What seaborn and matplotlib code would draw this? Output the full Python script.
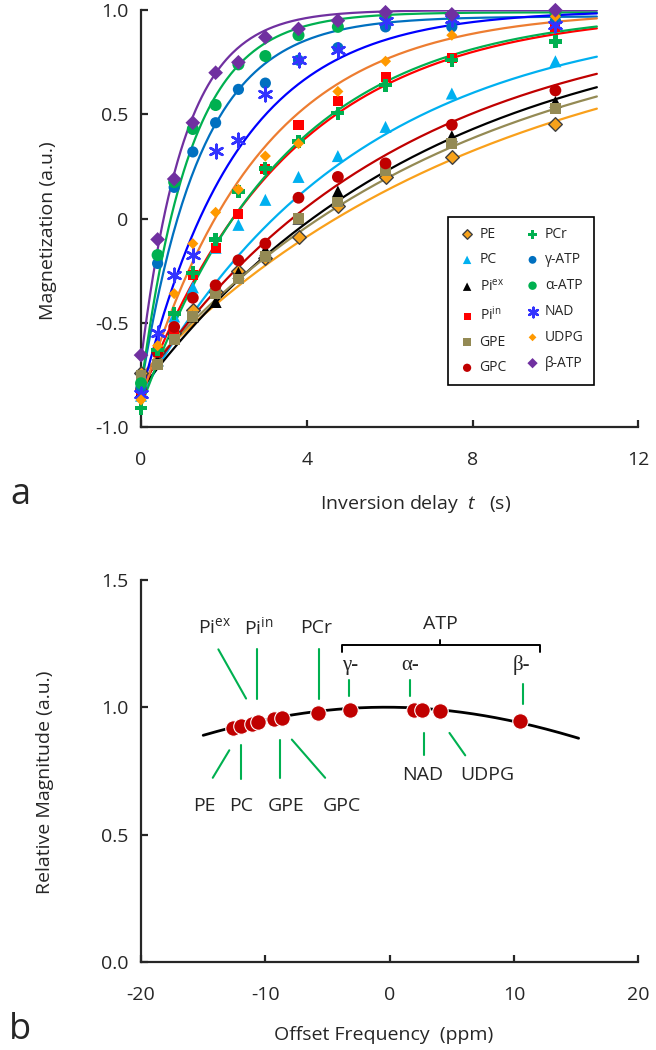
import numpy as np
import pandas as pd
import matplotlib
matplotlib.use("Agg")
import matplotlib.pyplot as plt
import seaborn as sns

# ---------------- data: panel a ----------------
t_delay = [0.0, 0.4, 0.8, 1.25, 1.8, 2.35, 3.0, 3.8, 4.75, 5.9, 7.5, 10.0]

PE   = [-0.74, -0.64, -0.55, -0.44, -0.35, -0.25, -0.19, -0.09, 0.06, 0.20, 0.295, 0.455]
PC   = [-0.85, -0.68, -0.47, -0.33, -0.14, -0.03, 0.09, 0.20, 0.30, 0.44, 0.60, 0.755]
Piex = [-0.83, -0.68, -0.55, -0.47, -0.40, -0.26, -0.15, 0.00, 0.13, 0.24, 0.395, 0.56]
Piin = [-0.82, -0.64, -0.53, -0.27, -0.14, 0.02, 0.24, 0.45, 0.565, 0.68, 0.77, 0.92]
GPE  = [-0.75, -0.70, -0.58, -0.47, -0.36, -0.29, -0.18, 0.00, 0.08, 0.23, 0.36, 0.53]
GPC  = [-0.82, -0.64, -0.52, -0.38, -0.32, -0.20, -0.12, 0.10, 0.20, 0.265, 0.45, 0.615]
PCr  = [-0.91, -0.63, -0.455, -0.26, -0.10, 0.13, 0.24, 0.37, 0.505, 0.64, 0.76, 0.85]
gATP = [-0.81, -0.215, 0.15, 0.32, 0.46, 0.62, 0.65, 0.76, 0.82, 0.92, 0.92, 0.95]
aATP = [-0.79, -0.175, 0.175, 0.43, 0.545, 0.74, 0.78, 0.88, 0.92, 0.97, 0.975, 0.99]
NAD  = [-0.84, -0.55, -0.27, -0.175, 0.325, 0.375, 0.60, 0.76, 0.81, 0.95, 0.96, 0.93]
UDPG = [-0.87, -0.61, -0.36, -0.12, 0.03, 0.14, 0.30, 0.36, 0.61, 0.755, 0.88, 0.97]
bATP = [-0.655, -0.10, 0.19, 0.46, 0.70, 0.75, 0.87, 0.91, 0.95, 0.99, 0.98, 1.00]

names  = ["PE", "PC", "Piex", "Piin", "GPE", "GPC", "PCr", "gATP", "aATP", "NAD", "UDPG", "bATP"]
labels = ["PE", "PC", r"Pi$^{\mathrm{ex}}$", r"Pi$^{\mathrm{in}}$", "GPE", "GPC",
          "PCr", "γ-ATP", "α-ATP", "NAD", "UDPG", "β-ATP"]
series = [PE, PC, Piex, Piin, GPE, GPC, PCr, gATP, aATP, NAD, UDPG, bATP]

# inversion-recovery fit parameters M(t) = M0 - B*exp(-t/T1)
fit_M0 = [1.00, 1.00, 1.00, 1.00, 1.00, 1.00, 1.00, 0.97, 0.99, 1.00, 1.00, 1.00]
fit_B  = [1.75, 1.85, 1.82, 1.85, 1.76, 1.80, 1.90, 1.78, 1.80, 1.85, 1.87, 1.68]
fit_T1 = [8.4, 5.2, 6.9, 3.6, 7.6, 6.2, 3.45, 1.45, 1.20, 2.30, 2.85, 1.05]

# ---------------- data: panel b ----------------
offset_ppm = [-12.57, -11.98, -11.09, -10.56, -9.30, -8.68, -5.73, -3.18, 1.92, 2.59, 4.06, 10.50]
rel_mag    = [0.920, 0.925, 0.936, 0.940, 0.953, 0.957, 0.979, 0.990, 0.990, 0.990, 0.986, 0.946]
# excitation profile (Gaussian shape parameters)
prof_center, prof_width, prof_start, prof_end = -0.3, 43.0, -15.0, 15.2

# ---------------- style ----------------
line_colors = ["#F9A01B", "#00B0F0", "#000000", "#FF0000", "#948A54", "#C00000",
               "#00B050", "#0070C0", "#00B050", "#0000FF", "#ED7D31", "#7030A0"]
mark_colors = ["#F7A21B", "#00B0F0", "#000000", "#FF0000", "#948A54", "#C00000",
               "#00B050", "#0070C0", "#00B050", "#3333FF", "#FF9900", "#7030A0"]
markers = ["D", "^", "^", "s", "s", "o", "P", "o", "o", (6, 2, 0), "D", "D"]
msizes  = [48, 75, 75, 52, 60, 72, 85, 65, 75, 95, 32, 56]

sns.set_theme(style="ticks")
plt.rcParams["font.family"] = ["Open Sans", "DejaVu Sans"]
plt.rcParams["mathtext.fontset"] = "custom"
plt.rcParams["mathtext.rm"] = "Open Sans"
plt.rcParams["mathtext.it"] = "Open Sans:italic"
plt.rcParams["axes.unicode_minus"] = False
plt.rcParams["axes.linewidth"] = 1.6

fig = plt.figure(figsize=(6.56, 10.5), dpi=100)
axa = fig.add_axes([0.215, 0.5933, 0.758, 0.397])
axb = fig.add_axes([0.215, 0.0838, 0.758, 0.364])

# ---- panel a ----
tt = np.linspace(0, 11, 300)
for i, nm in enumerate(names):
    curve = fit_M0[i] - fit_B[i] * np.exp(-tt / fit_T1[i])
    sns.lineplot(x=tt, y=curve, ax=axa, color=line_colors[i], lw=1.6, legend=False)

for i, nm in enumerate(names):
    df = pd.DataFrame({"t": t_delay, "M": series[i]})
    kw = dict(edgecolor="none")
    if nm == "PE":
        kw = dict(edgecolor="#404040", linewidth=1.0)
    if nm == "NAD":
        kw = dict(linewidth=1.8, edgecolor=mark_colors[i])
    sns.scatterplot(data=df, x="t", y="M", ax=axa, marker=markers[i], s=msizes[i],
                    color=mark_colors[i], label=labels[i], clip_on=False, zorder=5, **kw)

axa.set_xlim(0, 12)
axa.set_ylim(-1, 1)
axa.set_xticks([0, 4, 8, 12])
axa.set_yticks([-1.0, -0.5, 0, 0.5, 1.0])
axa.set_yticklabels(["-1.0", "-0.5", "0", "0.5", "1.0"])
axa.set_xlabel(r"Inversion delay  $\mathit{t}$   (s)", fontsize=14)
axa.set_ylabel("Magnetization (a.u.)", fontsize=14)
axa.xaxis.set_label_coords(0.553, -0.158)
axa.yaxis.set_label_coords(-0.17, 0.47)

leg = axa.legend(ncol=2, loc="upper left", bbox_to_anchor=(0.618, 0.504),
                 borderaxespad=0.0, frameon=True, fancybox=False, framealpha=1,
                 edgecolor="black", fontsize=10, markerscale=0.7, handletextpad=0.25,
                 columnspacing=1.2, labelspacing=0.78, borderpad=0.7,
                 handlelength=1.3)
leg.get_frame().set_linewidth(1.2)

# ---- panel b ----
xx = np.linspace(prof_start, prof_end, 300)
prof = np.exp(-((xx - prof_center) / prof_width) ** 2)
sns.lineplot(x=xx, y=prof, ax=axb, color="black", lw=2.0, legend=False)
sns.scatterplot(x=offset_ppm, y=rel_mag, ax=axb, color="#C00000", s=125,
                edgecolor="white", linewidth=0.8, zorder=5, legend=False)

axb.set_xlim(-20, 20)
axb.set_ylim(0, 1.5)
axb.set_xticks([-20, -10, 0, 10, 20])
axb.set_yticks([0.0, 0.5, 1.0, 1.5])
axb.set_yticklabels(["0.0", "0.5", "1.0", "1.5"])
axb.set_xlabel("Offset Frequency  (ppm)", fontsize=14)
axb.set_ylabel("Relative Magnitude (a.u.)", fontsize=14)
axb.xaxis.set_label_coords(0.487, -0.168)
axb.yaxis.set_label_coords(-0.175, 0.47)

green = "#00B050"
# annotation leader lines: (x0, y0, x1, y1)
leaders = [(-13.78, 1.227, -11.55, 1.034), (-10.64, 1.227, -10.64, 1.034),
           (-5.67, 1.227, -5.67, 1.034), (-3.26, 1.106, -3.26, 1.045),
           (1.60, 1.106, 1.60, 1.045), (10.69, 1.093, 10.69, 1.014),
           (-12.90, 0.831, -14.23, 0.723), (-11.98, 0.850, -11.98, 0.719),
           (-8.81, 0.873, -8.81, 0.723), (-7.87, 0.873, -5.19, 0.723),
           (2.78, 0.899, 2.78, 0.811), (4.81, 0.899, 6.08, 0.811)]
for x0, y0, x1, y1 in leaders:
    axb.plot([x0, x1], [y0, y1], color=green, lw=1.5)

txt_kw = dict(fontsize=14, ha="center", va="center")
axb.text(-14.1, 1.315, r"Pi$^{\mathrm{ex}}$", **txt_kw)
axb.text(-10.5, 1.315, r"Pi$^{\mathrm{in}}$", **txt_kw)
axb.text(-5.9, 1.31, "PCr", **txt_kw)
axb.text(4.06, 1.325, "ATP", **txt_kw)
axb.text(-14.9, 0.614, "PE", **txt_kw)
axb.text(-11.95, 0.614, "PC", **txt_kw)
axb.text(-8.35, 0.614, "GPE", **txt_kw)
axb.text(-3.85, 0.614, "GPC", **txt_kw)
axb.text(2.66, 0.732, "NAD", **txt_kw)
axb.text(7.82, 0.732, "UDPG", **txt_kw)
gk = dict(fontsize=15, ha="center", va="center", family=["Liberation Serif", "DejaVu Serif"])
axb.text(-3.2, 1.165, "γ-", **gk)
axb.text(1.65, 1.165, "α-", **gk)
axb.text(10.6, 1.165, "β-", **gk)
# bracket
axb.plot([-3.82, -3.82, 12.1, 12.1], [1.217, 1.244, 1.244, 1.217], color="black", lw=1.4)
axb.plot([4.06, 4.06], [1.244, 1.264], color="black", lw=1.4)

for ax in (axa, axb):
    sns.despine(ax=ax)
    ax.tick_params(direction="in", length=5, width=1.6, labelsize=14)
    ax.tick_params(axis="x", pad=17)
    ax.tick_params(axis="y", pad=9)
    ax.spines["left"].set_linewidth(1.6)
    ax.spines["bottom"].set_linewidth(1.6)

fig.text(20 / 656, 1 - 495 / 1050, "a", fontsize=26, ha="center", va="center")
fig.text(20 / 656, 1 - 1030 / 1050, "b", fontsize=26, ha="center", va="center")

fig.savefig("out.png", dpi=100)
